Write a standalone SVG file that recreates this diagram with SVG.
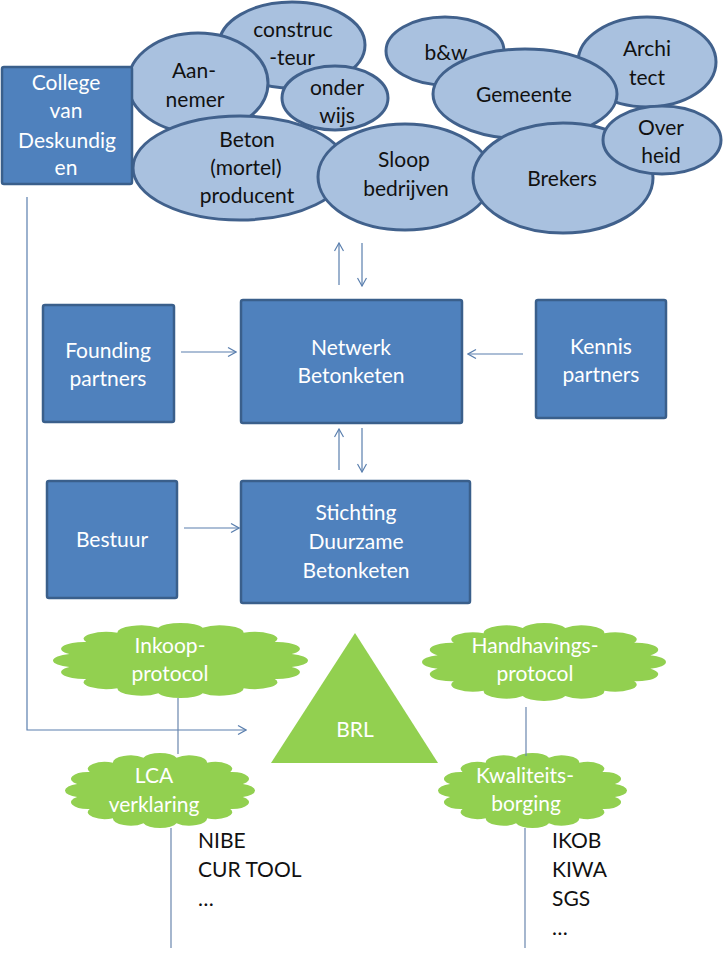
<svg xmlns="http://www.w3.org/2000/svg" xmlns:xlink="http://www.w3.org/1999/xlink" width="723" height="955" viewBox="0 0 723 955">
<style>
text{font-family:Lato,"Open Sans","Liberation Sans",sans-serif;font-size:21px;text-anchor:middle}
.box{fill:#4F81BD;stroke:#3A5F8B;stroke-width:2.5}
.bt{fill:#FFFFFF}
.ell{fill:#A9C1DF;stroke:#41618C;stroke-width:3}
.et{fill:#111111}
.cloud{fill:#92D050}
.ct{fill:#FFFFFF}
.con{fill:none;stroke:#5A7FAE;stroke-width:1.2}
.line{fill:none;stroke:#6A86AE;stroke-width:1.2}
.plain{fill:#111111;text-anchor:start}
</style>
<defs>
<marker id="arr" viewBox="0 0 10 10" refX="9" refY="5" markerWidth="10" markerHeight="10" markerUnits="userSpaceOnUse" orient="auto">
<polyline points="1,0.5 9,5 1,9.5" fill="none" stroke="#5A7FAE" stroke-width="1.2"/>
</marker>
<path id="cloudshape" d="M86.3,17.2 A18,18 0 0 1 73.2,48.9 A18,18 0 0 1 48.9,73.2 A18,18 0 0 1 17.2,86.3 A18,18 0 0 1 -17.2,86.3 A18,18 0 0 1 -48.9,73.2 A18,18 0 0 1 -73.2,48.9 A18,18 0 0 1 -86.3,17.2 A18,18 0 0 1 -86.3,-17.2 A18,18 0 0 1 -73.2,-48.9 A18,18 0 0 1 -48.9,-73.2 A18,18 0 0 1 -17.2,-86.3 A18,18 0 0 1 17.2,-86.3 A18,18 0 0 1 48.9,-73.2 A18,18 0 0 1 73.2,-48.9 A18,18 0 0 1 86.3,-17.2 A18,18 0 0 1 86.3,17.2 Z"/>
</defs>

<!-- Stakeholder ellipses -->
<g id="constructeur"><ellipse class="ell" cx="292" cy="45" rx="73" ry="43"/><text class="et" x="293" y="37">construc</text><text class="et" x="292" y="65">-teur</text></g>
<g id="aannemer"><ellipse class="ell" cx="198" cy="83" rx="70" ry="50"/><text class="et" x="194" y="78">Aan-</text><text class="et" x="195" y="107">nemer</text></g>
<g id="onderwijs"><ellipse class="ell" cx="335" cy="98" rx="53" ry="32"/><text class="et" x="337" y="95">onder</text><text class="et" x="337" y="123">wijs</text></g>
<g id="beton"><ellipse class="ell" cx="240" cy="168" rx="107" ry="52"/><text class="et" x="247" y="147">Beton</text><text class="et" x="246" y="175">(mortel)</text><text class="et" x="247" y="203">producent</text></g>
<g id="bw"><ellipse class="ell" cx="445" cy="51" rx="59" ry="34"/><text class="et" x="446" y="60">b&amp;w</text></g>
<g id="architect"><ellipse class="ell" cx="647" cy="62" rx="69" ry="45"/><text class="et" x="647" y="56">Archi</text><text class="et" x="647" y="85">tect</text></g>
<g id="gemeente"><ellipse class="ell" cx="525" cy="94" rx="92" ry="45"/><text class="et" x="524" y="102">Gemeente</text></g>
<g id="sloop"><ellipse class="ell" cx="405" cy="177" rx="87" ry="53"/><text class="et" x="404" y="167">Sloop</text><text class="et" x="406" y="196">bedrijven</text></g>
<g id="brekers"><ellipse class="ell" cx="563" cy="178" rx="90" ry="55"/><text class="et" x="562" y="186">Brekers</text></g>
<g id="overheid"><ellipse class="ell" cx="662" cy="140" rx="59" ry="34"/><text class="et" x="661" y="135">Over</text><text class="et" x="661" y="163">heid</text></g>

<!-- Boxes -->
<g id="college"><rect class="box" x="2" y="67" width="130" height="117" rx="2"/><text class="bt" x="66" y="90">College</text><text class="bt" x="66" y="118">van</text><text class="bt" x="67" y="148">Deskundig</text><text class="bt" x="66" y="175">en</text></g>
<g id="founding"><rect class="box" x="43" y="305" width="131" height="117" rx="2"/><text class="bt" x="108" y="358">Founding</text><text class="bt" x="108" y="386">partners</text></g>
<g id="netwerk"><rect class="box" x="241" y="300" width="221" height="123" rx="2"/><text class="bt" x="351" y="355">Netwerk</text><text class="bt" x="351" y="383">Betonketen</text></g>
<g id="kennis"><rect class="box" x="536" y="300" width="130" height="118" rx="2"/><text class="bt" x="601" y="354">Kennis</text><text class="bt" x="601" y="382">partners</text></g>
<g id="bestuur"><rect class="box" x="47" y="481" width="130" height="117" rx="2"/><text class="bt" x="112" y="547">Bestuur</text></g>
<g id="stichting"><rect class="box" x="241" y="481" width="229" height="122" rx="2"/><text class="bt" x="356" y="520">Stichting</text><text class="bt" x="356" y="549">Duurzame</text><text class="bt" x="356" y="578">Betonketen</text></g>

<!-- Green elements -->
<g id="inkoop"><use xlink:href="#cloudshape" class="cloud" transform="translate(180.5,660.5) scale(1.288,0.379)"/><text class="ct" x="170" y="653">Inkoop-</text><text class="ct" x="170" y="681">protocol</text></g>
<g id="handhavings"><use xlink:href="#cloudshape" class="cloud" transform="translate(544,662) scale(1.232,0.394)"/><text class="ct" x="535" y="653">Handhavings-</text><text class="ct" x="535" y="681">protocol</text></g>
<g id="brl"><polygon points="355,633 438,763 271,763" fill="#92D050"/><text class="ct" x="355" y="737">BRL</text></g>
<g id="lca"><use xlink:href="#cloudshape" class="cloud" transform="translate(160,790.5) scale(0.96,0.379)"/><text class="ct" x="154" y="783">LCA</text><text class="ct" x="154" y="812">verklaring</text></g>
<g id="kwaliteit"><use xlink:href="#cloudshape" class="cloud" transform="translate(532.5,790.5) scale(0.955,0.379)"/><text class="ct" x="525" y="783">Kwaliteits-</text><text class="ct" x="526" y="811">borging</text></g>

<!-- Lists -->
<g id="lca-list"><text class="plain" x="198" y="848">NIBE</text><text class="plain" x="198" y="877">CUR TOOL</text><text class="plain" x="198" y="906">…</text></g>
<g id="kwal-list"><text class="plain" x="552" y="848">IKOB</text><text class="plain" x="552" y="877">KIWA</text><text class="plain" x="552" y="906">SGS</text><text class="plain" x="552" y="935">…</text></g>

<!-- Connectors -->
<g id="connectors">
<line class="con" x1="339" y1="285" x2="339" y2="243" marker-end="url(#arr)"/>
<line class="con" x1="362" y1="243" x2="362" y2="286" marker-end="url(#arr)"/>
<line class="con" x1="181" y1="352" x2="236" y2="352" marker-end="url(#arr)"/>
<line class="con" x1="523" y1="354" x2="468" y2="354" marker-end="url(#arr)"/>
<line class="con" x1="339" y1="470" x2="339" y2="429" marker-end="url(#arr)"/>
<line class="con" x1="362" y1="428" x2="362" y2="472" marker-end="url(#arr)"/>
<line class="con" x1="184" y1="528" x2="239" y2="528" marker-end="url(#arr)"/>
<polyline class="con" points="27,197 27,730 246,730" marker-end="url(#arr)"/>
<line class="line" x1="178" y1="698" x2="178" y2="754"/>
<line class="line" x1="171" y1="828" x2="171" y2="948"/>
<line class="line" x1="526" y1="707" x2="526" y2="756"/>
<line class="line" x1="525" y1="828" x2="525" y2="948"/>
</g>
</svg>
